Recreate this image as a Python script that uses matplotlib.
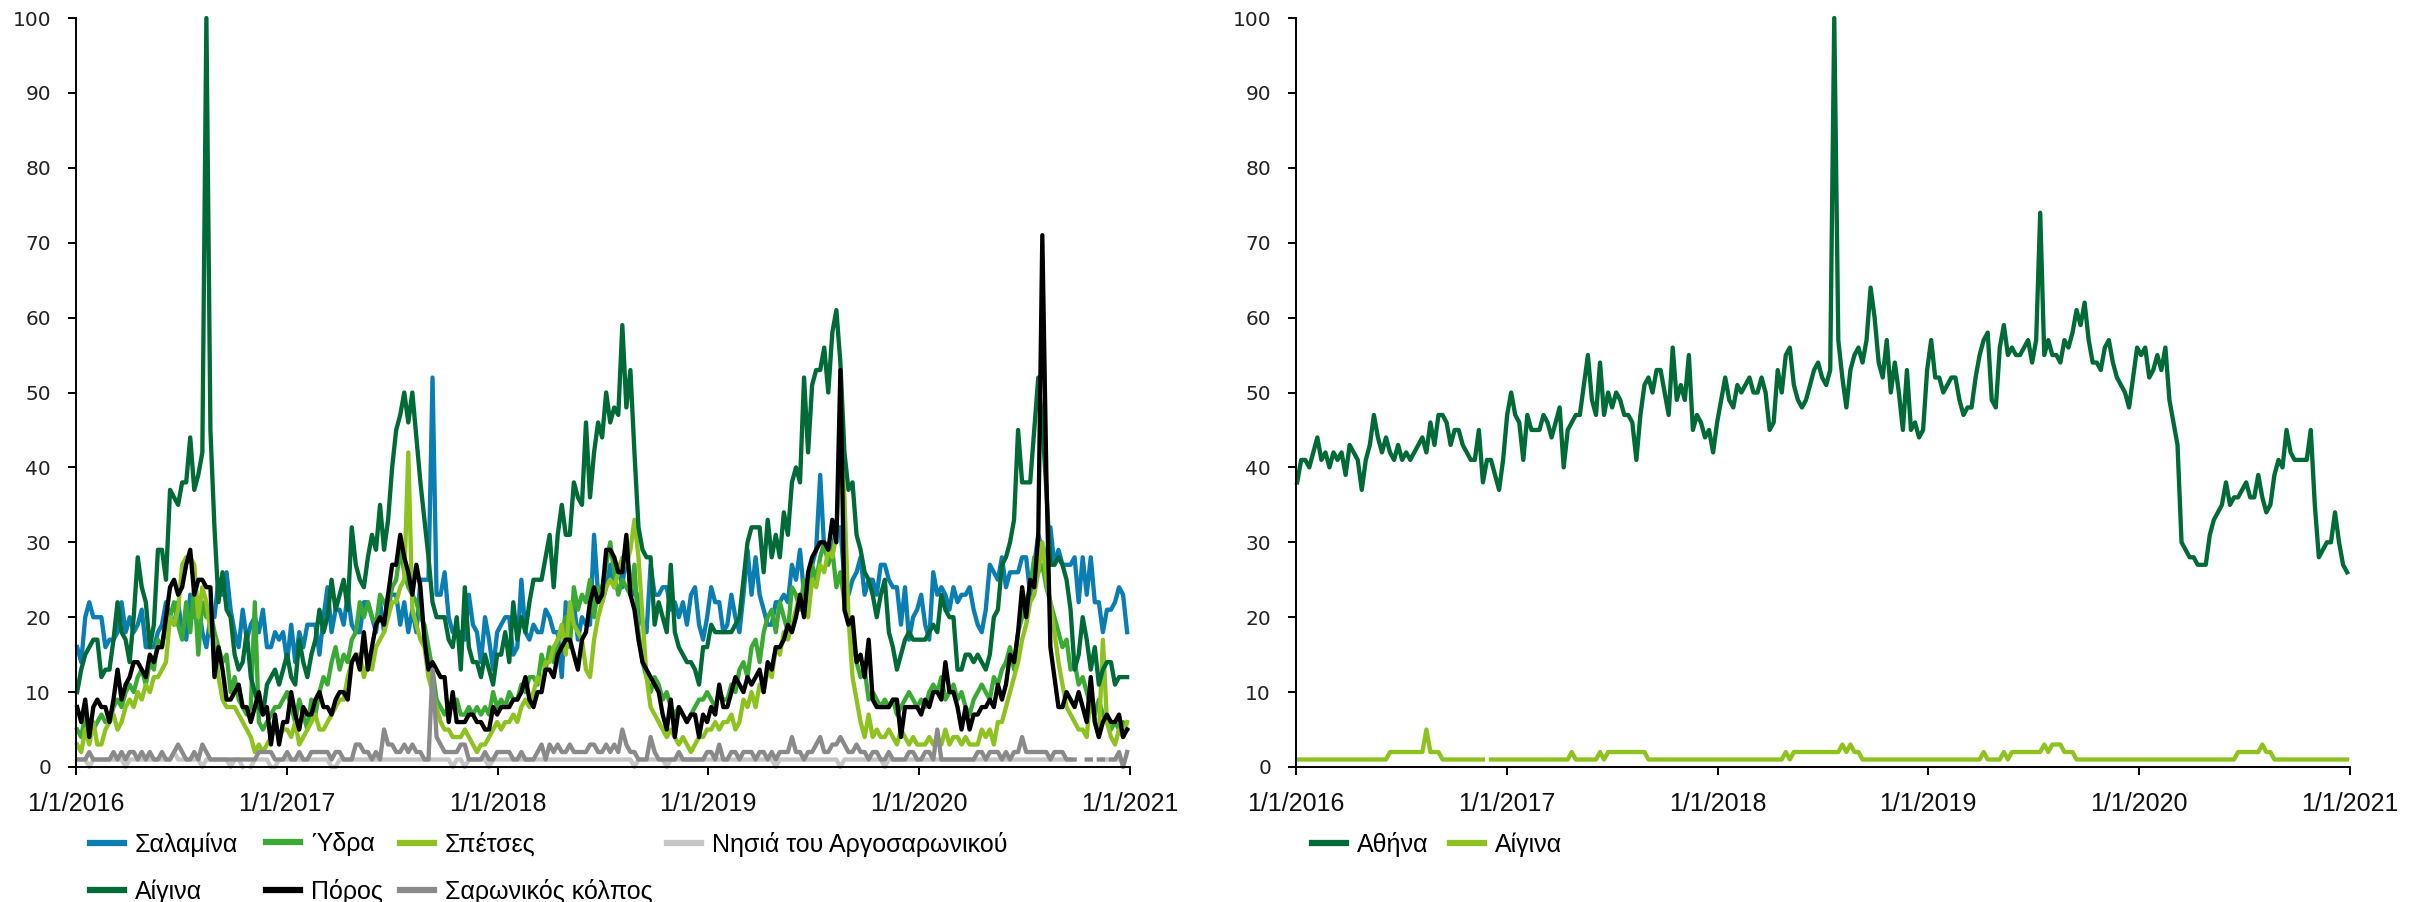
import numpy as np
import pandas as pd
import matplotlib
matplotlib.use('Agg')
import matplotlib.pyplot as plt

nan = np.nan

first_week = '2016-01-03'
tick_dates = ['2016-01-01', '2017-01-01', '2018-01-01', '2019-01-01', '2020-01-01', '2021-01-01']
tick_labels = ['1/1/2016', '1/1/2017', '1/1/2018', '1/1/2019', '1/1/2020', '1/1/2021']
y_ticks = [0, 10, 20, 30, 40, 50, 60, 70, 80, 90, 100]

# ---------- left panel: weekly search interest per island
salamina = [16, 14, 20, 22, 20, 20, 20, 16, 17, 17,
            18, 22, 18, 20, 18, 19, 21, 16, 16, 16,
            18, 19, 22, 20, 19, 22, 18, 17, 23, 20,
            22, 18, 16, 20, 20, 25, 23, 26, 21, 18,
            16, 21, 17, 19, 20, 18, 21, 16, 16, 18,
            17, 18, 14, 19, 14, 18, 16, 19, 19, 19,
            15, 20, 24, 18, 21, 21, 19, 23, 19, 18,
            18, 22, 22, 20, 18, 22, 18, 23, 23, 23,
            19, 22, 18, 21, 18, 25, 25, 25, 52, 23,
            23, 26, 20, 18, 18, 18, 17, 23, 19, 18,
            14, 20, 17, 13, 18, 19, 20, 20, 15, 16,
            25, 18, 17, 19, 18, 18, 21, 20, 18, 18,
            12, 22, 19, 22, 17, 20, 19, 19, 31, 23,
            22, 24, 27, 24, 27, 24, 29, 24, 23, 23,
            19, 18, 27, 23, 23, 24, 24, 21, 22, 20,
            22, 19, 23, 24, 19, 17, 20, 24, 22, 22,
            18, 19, 23, 20, 18, 23, 29, 23, 28, 23,
            21, 19, 19, 22, 22, 23, 22, 27, 25, 29,
            23, 25, 27, 29, 39, 29, 28, 29, 32, 32,
            25, 23, 25, 26, 28, 23, 25, 25, 23, 27,
            27, 25, 24, 24, 19, 24, 17, 20, 21, 23,
            19, 17, 26, 23, 24, 23, 21, 24, 22, 23,
            23, 24, 21, 19, 18, 21, 27, 26, 25, 28,
            24, 26, 26, 26, 28, 28, 23, 27, 31, 29,
            28, 32, 27, 29, 27, 27, 27, 28, 22, 28,
            23, 28, 22, 22, 18, 21, 21, 22, 24, 23, 18]

ydra = [5, 4, 7, 4, 5, 6, 7, 6, 6, 8,
        9, 8, 10, 11, 10, 12, 13, 11, 14, 13,
        17, 16, 19, 20, 22, 19, 17, 22, 18, 24,
        15, 22, 20, 21, 18, 16, 14, 15, 10, 12,
        9, 8, 7, 8, 22, 6, 5, 6, 7, 8,
        8, 9, 10, 8, 6, 9, 7, 5, 9, 7,
        10, 12, 11, 14, 16, 13, 15, 14, 17, 18,
        22, 20, 22, 20, 19, 23, 22, 21, 24, 25,
        29, 26, 24, 23, 22, 20, 19, 16, 13, 9,
        8, 7, 8, 8, 9, 7, 7, 8, 7, 8,
        7, 8, 7, 10, 8, 9, 8, 10, 9, 9,
        11, 10, 12, 12, 11, 15, 13, 16, 14, 17,
        18, 20, 16, 24, 21, 23, 22, 25, 20, 24,
        24, 27, 30, 26, 23, 25, 24, 23, 27, 18,
        14, 12, 10, 12, 11, 9, 10, 8, 7, 8,
        7, 6, 7, 8, 9, 9, 10, 9, 8, 10,
        9, 9, 11, 10, 13, 14, 12, 16, 17, 14,
        18, 20, 21, 18, 22, 20, 18, 24, 23, 21,
        25, 22, 27, 25, 28, 30, 27, 29, 24, 26,
        22, 20, 17, 14, 12, 13, 9, 10, 9, 8,
        9, 8, 9, 7, 8, 9, 10, 9, 8, 9,
        8, 10, 11, 10, 12, 9, 10, 11, 9, 10,
        8, 7, 9, 10, 11, 10, 9, 12, 11, 13,
        14, 16, 13, 18, 20, 22, 24, 28, 26, 27,
        24, 22, 20, 18, 16, 17, 13, 14, 11, 12,
        10, 8, 7, 9, 7, 6, 5, 6, 5, 6, 5]

spetses = [3, 2, 5, 3, 6, 3, 3, 5, 6, 7,
           5, 6, 8, 9, 8, 10, 9, 11, 10, 12,
           12, 13, 14, 20, 19, 21, 27, 28, 28, 27,
           20, 24, 22, 18, 17, 12, 9, 8, 8, 8,
           7, 6, 5, 4, 2, 3, 2, 3, 4, 5,
           4, 5, 5, 4, 6, 3, 4, 5, 6, 7,
           5, 5, 6, 7, 8, 9, 9, 12, 14, 15,
           15, 12, 14, 13, 16, 17, 18, 20, 22, 22,
           24, 25, 42, 21, 19, 17, 16, 12, 10, 8,
           6, 5, 5, 4, 4, 4, 5, 4, 3, 2,
           3, 3, 4, 5, 6, 5, 6, 6, 7, 6,
           8, 9, 8, 10, 12, 11, 14, 14, 16, 17,
           19, 15, 22, 19, 18, 17, 13, 12, 17, 20,
           22, 24, 25, 24, 26, 28, 27, 29, 33, 28,
           20, 12, 8, 7, 6, 5, 4, 5, 4, 3,
           4, 3, 2, 3, 4, 4, 5, 5, 6, 5,
           6, 6, 7, 5, 6, 9, 8, 10, 8, 11,
           10, 13, 12, 16, 15, 18, 17, 19, 21, 23,
           22, 20, 25, 24, 27, 26, 29, 28, 31, 43,
           36, 20, 12, 9, 6, 4, 7, 4, 5, 4,
           4, 5, 4, 3, 5, 4, 3, 4, 3, 3,
           3, 4, 3, 4, 3, 5, 3, 4, 4, 3,
           4, 3, 3, 3, 5, 4, 5, 3, 6, 6,
           8, 10, 12, 14, 17, 19, 22, 23, 26, 30,
           25, 22, 18, 14, 11, 8, 7, 6, 5, 5,
           4, 10, 6, 4, 17, 6, 4, 3, 5, 4, 6]

nisia = [1, 1, 1, 0, 1, 1, 1, 1, 1, 1,
         1, 1, 0, 1, 1, 1, 1, 1, 1, 1,
         1, 1, 1, 1, 2, 1, 1, 1, 1, 1,
         1, 0, 1, 1, 1, 1, 1, 1, 0, 1,
         1, 0, nan, 0, 1, 1, 1, 1, 0, 0,
         1, 1, 1, 1, 1, 1, 1, 1, 1, 1,
         1, 1, 1, 0, 0, 1, 1, 1, 1, 1,
         1, 1, 1, 1, 1, 1, 1, 1, 1, 1,
         1, 1, 1, 1, 1, 1, 1, 1, 1, 1,
         1, 1, 1, 0, 1, 1, 0, 1, 1, 1,
         1, 1, 0, 1, 1, 1, 1, 1, 1, 1,
         1, 1, 1, 1, 1, 1, 1, 1, 1, 1,
         1, 1, 1, 1, 1, 1, 1, 1, 1, 1,
         1, 1, 1, 1, 1, 1, 1, 1, 0, 1,
         1, 1, 1, 1, 1, 1, 0, 1, 1, 1,
         1, 1, 1, 1, 1, 1, 1, 1, 1, 1,
         1, 1, 1, 1, 1, 1, 1, 1, 1, 1,
         1, 1, 1, 0, 1, 1, 1, 1, 1, 1,
         1, 1, 1, 1, 1, 1, 1, 1, 1, 0,
         1, 1, 1, 1, 1, 1, 1, 1, 1, 1,
         0, 1, 1, 1, 1, 1, 1, 1, 1, 1,
         1, 1, 1, 1, 1, 1, 1, 1, 1, 1,
         1, 1, 1, 1, 1, 1, 1, 1, 1, 1,
         1, 1, 1, 1, 1, 1, 1, 1, 1, 1,
         1, 1, 1, 1, 1, 1, 1, nan, 1, nan,
         1, nan, 1, nan, 1, 1, nan, 1, 1, nan, 1]

aigina = [10, 13, 15, 16, 17, 17, 12, 13, 13, 17,
          22, 18, 17, 14, 20, 28, 24, 22, 16, 19,
          29, 29, 25, 37, 36, 35, 38, 38, 44, 37,
          39, 42, 100, 45, 32, 22, 26, 21, 20, 15,
          13, 14, 18, 12, 10, 8, 7, 11, 12, 13,
          11, 13, 15, 12, 11, 17, 14, 12, 15, 17,
          21, 18, 20, 25, 21, 23, 25, 21, 32, 27,
          25, 24, 28, 31, 29, 35, 29, 33, 40, 45,
          47, 50, 46, 50, 44, 38, 33, 28, 22, 20,
          20, 20, 17, 16, 20, 13, 24, 16, 14, 14,
          12, 15, 13, 11, 15, 15, 18, 14, 22, 17,
          20, 18, 22, 25, 25, 25, 28, 31, 24, 31,
          35, 31, 31, 38, 36, 35, 46, 36, 42, 46,
          44, 50, 46, 48, 47, 59, 48, 53, 42, 32,
          29, 28, 28, 19, 22, 20, 18, 27, 18, 16,
          15, 14, 14, 13, 11, 16, 16, 19, 18, 18,
          18, 18, 18, 19, 20, 25, 30, 32, 32, 32,
          26, 33, 28, 31, 28, 34, 31, 38, 40, 38,
          52, 42, 51, 53, 53, 56, 50, 58, 61, 54,
          42, 37, 38, 31, 29, 26, 25, 23, 20, 23,
          25, 18, 16, 13, 15, 17, 18, 17, 17, 17,
          17, 18, 19, 18, 23, 21, 20, 20, 13, 13,
          15, 15, 14, 15, 14, 13, 15, 20, 21, 27,
          28, 30, 33, 45, 38, 38, 38, 45, 52, 46,
          37, 27, 27, 28, 27, 25, 21, 13, 15, 20,
          17, 13, 16, 11, 13, 14, 14, 11, 12, 12, 12]

poros = [8, 6, 9, 4, 8, 9, 8, 8, 6, 9,
         13, 9, 11, 12, 14, 14, 13, 12, 15, 14,
         16, 16, 20, 24, 25, 23, 24, 27, 29, 23,
         25, 25, 24, 24, 12, 16, 13, 9, 9, 10,
         11, 8, 8, 6, 8, 10, 7, 8, 3, 7,
         3, 6, 6, 10, 7, 5, 8, 7, 7, 9,
         10, 8, 8, 7, 9, 10, 10, 9, 14, 15,
         13, 18, 13, 16, 19, 20, 19, 23, 27, 27,
         31, 28, 26, 23, 27, 24, 17, 13, 14, 13,
         12, 12, 6, 10, 6, 6, 6, 7, 7, 6,
         6, 5, 5, 8, 7, 8, 8, 8, 9, 9,
         10, 12, 9, 8, 10, 10, 13, 13, 12, 15,
         16, 17, 17, 15, 13, 17, 18, 22, 24, 22,
         23, 29, 29, 28, 26, 26, 31, 23, 21, 17,
         14, 13, 12, 11, 10, 7, 5, 9, 4, 8,
         7, 6, 7, 7, 4, 7, 6, 8, 7, 11,
         8, 8, 10, 12, 11, 10, 12, 11, 12, 13,
         10, 14, 13, 16, 16, 17, 19, 18, 20, 23,
         20, 26, 28, 29, 30, 30, 29, 33, 30, 53,
         21, 19, 20, 14, 15, 12, 17, 9, 8, 8,
         8, 8, 9, 9, 4, 8, 8, 8, 8, 7,
         9, 8, 10, 10, 9, 14, 10, 10, 8, 5,
         8, 5, 7, 7, 8, 8, 9, 8, 11, 9,
         11, 15, 14, 18, 24, 20, 25, 24, 31, 71,
         39, 16, 12, 8, 8, 10, 9, 8, 10, 8,
         6, 12, 6, 4, 6, 7, 6, 6, 7, 4, 5]

saronikos = [1, 1, 1, 2, 1, 1, 1, 1, 1, 2,
             1, 2, 1, 2, 2, 1, 2, 1, 2, 1,
             1, 2, 1, 1, 2, 3, 2, 1, 1, 2,
             1, 3, 2, 1, 1, 1, 1, 1, 1, 1,
             1, 1, 1, 1, 1, 2, 2, 2, 2, 1,
             1, 1, 2, 1, 1, 2, 1, 1, 2, 2,
             2, 2, 2, 1, 2, 2, 1, 1, 1, 3,
             3, 2, 2, 1, 2, 1, 5, 3, 3, 2,
             2, 3, 2, 3, 2, 2, 1, 1, 13, 4,
             3, 2, 2, 2, 2, 3, 3, 1, 1, 1,
             1, 2, 1, 1, 2, 2, 2, 2, 1, 1,
             2, 1, 1, 1, 2, 3, 1, 3, 2, 3,
             2, 2, 3, 2, 2, 2, 2, 3, 3, 2,
             2, 3, 2, 3, 2, 5, 3, 2, 2, 1,
             1, 1, 4, 2, 1, 1, 1, 1, 1, 2,
             1, 1, 1, 1, 1, 1, 2, 2, 1, 3,
             1, 1, 2, 2, 1, 2, 2, 2, 1, 2,
             2, 1, 2, 1, 2, 2, 2, 4, 2, 2,
             1, 2, 2, 3, 4, 2, 2, 3, 3, 4,
             3, 2, 2, 3, 2, 2, 1, 2, 2, 1,
             1, 2, 1, 1, 1, 1, 2, 2, 1, 1,
             2, 2, 1, 5, 1, 1, 1, 1, 1, 1,
             1, 1, 1, 2, 2, 1, 2, 2, 2, 1,
             2, 1, 2, 2, 4, 2, 2, 2, 2, 2,
             2, 1, 2, 2, 2, 1, 1, 1, nan, nan,
             1, 1, nan, 1, 1, nan, 1, 1, 2, 0, 2]

# ---------- right panel: Athens vs Aegina
athina = [38, 41, 41, 40, 42, 44, 41, 42, 40, 42,
          41, 42, 39, 43, 42, 41, 37, 41, 43, 47,
          44, 42, 44, 42, 41, 43, 41, 42, 41, 42,
          43, 44, 42, 46, 43, 47, 47, 46, 43, 45,
          45, 43, 42, 41, 41, 45, 38, 41, 41, 39,
          37, 41, 47, 50, 47, 46, 41, 47, 45, 45,
          45, 47, 46, 44, 46, 48, 40, 45, 46, 47,
          47, 51, 55, 49, 47, 54, 47, 50, 48, 50,
          49, 47, 47, 46, 41, 47, 51, 52, 50, 53,
          53, 50, 47, 56, 49, 51, 49, 55, 45, 47,
          46, 44, 45, 42, 46, 49, 52, 49, 48, 51,
          50, 51, 52, 50, 50, 52, 50, 45, 46, 53,
          50, 55, 56, 51, 49, 48, 49, 51, 53, 54,
          52, 51, 53, 100, 57, 52, 48, 53, 55, 56,
          54, 57, 64, 60, 54, 52, 57, 50, 54, 50,
          45, 53, 45, 46, 44, 45, 53, 57, 52, 52,
          50, 51, 52, 52, 49, 47, 48, 48, 52, 55,
          57, 58, 49, 48, 56, 59, 55, 56, 55, 55,
          56, 57, 54, 57, 74, 55, 57, 55, 55, 54,
          57, 56, 58, 61, 59, 62, 57, 54, 54, 53,
          56, 57, 54, 52, 51, 50, 48, 52, 56, 55,
          56, 52, 53, 55, 53, 56, 49, 46, 43, 30,
          29, 28, 28, 27, 27, 27, 31, 33, 34, 35,
          38, 35, 36, 36, 37, 38, 36, 36, 39, 36,
          34, 35, 39, 41, 40, 45, 42, 41, 41, 41,
          41, 45, 35, 28, 29, 30, 30, 34, 30, 27, 26]

aigina_r = [1, 1, 1, 1, 1, 1, 1, 1, 1, 1,
            1, 1, 1, 1, 1, 1, 1, 1, 1, 1,
            1, 1, 1, 2, 2, 2, 2, 2, 2, 2,
            2, 2, 5, 2, 2, 2, 1, 1, 1, 1,
            1, 1, 1, 1, 1, 1, 1, nan, 1, 1,
            1, 1, 1, 1, 1, 1, 1, 1, 1, 1,
            1, 1, 1, 1, 1, 1, 1, 1, 2, 1,
            1, 1, 1, 1, 1, 2, 1, 2, 2, 2,
            2, 2, 2, 2, 2, 2, 2, 1, 1, 1,
            1, 1, 1, 1, 1, 1, 1, 1, 1, 1,
            1, 1, 1, 1, 1, 1, 1, 1, 1, 1,
            1, 1, 1, 1, 1, 1, 1, 1, 1, 1,
            1, 2, 1, 2, 2, 2, 2, 2, 2, 2,
            2, 2, 2, 2, 2, 3, 2, 3, 2, 2,
            1, 1, 1, 1, 1, 1, 1, 1, 1, 1,
            1, 1, 1, 1, 1, 1, 1, 1, 1, 1,
            1, 1, 1, 1, 1, 1, 1, 1, 1, 1,
            2, 1, 1, 1, 1, 2, 1, 2, 2, 2,
            2, 2, 2, 2, 2, 3, 2, 3, 3, 3,
            2, 2, 2, 1, 1, 1, 1, 1, 1, 1,
            1, 1, 1, 1, 1, 1, 1, 1, 1, 1,
            1, 1, 1, 1, 1, 1, 1, 1, 1, 1,
            1, 1, 1, 1, 1, 1, 1, 1, 1, 1,
            1, 1, 1, 2, 2, 2, 2, 2, 2, 3,
            2, 2, 1, 1, 1, 1, 1, 1, 1, 1,
            1, 1, 1, 1, 1, 1, 1, 1, 1, 1, 1]

left_series = [('Σαλαμίνα', salamina, '#0a7db3'),
               ('Ύδρα', ydra, '#3aaa35'),
               ('Σπέτσες', spetses, '#8dc21f'),
               ('Νησιά του Αργοσαρωνικού', nisia, '#c6c6c6'),
               ('Αίγινα', aigina, '#006b36'),
               ('Πόρος', poros, '#000000'),
               ('Σαρωνικός κόλπος', saronikos, '#8a8a8a')]
right_series = [('Αθήνα', athina, '#006b36'),
                ('Αίγινα', aigina_r, '#8dc21f')]

# legend columns (the original lays them out row by row)
left_cols = [['Σαλαμίνα', 'Αίγινα'], ['Ύδρα', 'Πόρος'],
             ['Σπέτσες', 'Σαρωνικός κόλπος'], ['Νησιά του Αργοσαρωνικού']]
left_col_x = [90, 266, 400, 667]
right_cols = [['Αθήνα'], ['Αίγινα']]
right_col_x = [1312, 1450]

label_font = ['Liberation Sans', 'DejaVu Sans']


def weeks(vals):
    return pd.date_range(first_week, periods=len(vals), freq='7D')


def style_axis(ax):
    ax.set_ylim(0, 100)
    ax.set_xlim(pd.Timestamp(tick_dates[0]), pd.Timestamp(tick_dates[-1]))
    ax.set_yticks(y_ticks)
    ax.set_yticklabels([str(v) for v in y_ticks], family='DejaVu Sans', fontsize=14.5, color='#222222')
    ax.set_xticks([pd.Timestamp(d) for d in tick_dates])
    ax.set_xticklabels(tick_labels, family=label_font, fontsize=18, color='#111111')
    ax.spines['top'].set_visible(False)
    ax.spines['right'].set_visible(False)
    for s in ['left', 'bottom']:
        ax.spines[s].set_linewidth(1.4)
    ax.tick_params(axis='both', direction='out', length=6, width=1.4)
    ax.tick_params(axis='y', pad=12)
    ax.tick_params(axis='x', pad=12)


def add_legend(handles, cols, xs):
    for names, x in zip(cols, xs):
        leg = fig.legend([handles[n] for n in names], names, loc='upper left',
                         bbox_to_anchor=(x / 2420, 0.0775), frameon=False,
                         borderpad=0, borderaxespad=0, handlelength=1.35,
                         handletextpad=0.45, labelspacing=0.9,
                         prop={'family': label_font, 'size': 18})
        for l in leg.get_lines():
            l.set_linewidth(4.5)


fig = plt.figure(figsize=(24.2, 9.02), dpi=100)
ax1 = fig.add_axes([76 / 2420, 135 / 902, 1054 / 2420, 749 / 902])
ax2 = fig.add_axes([1296 / 2420, 135 / 902, 1054 / 2420, 749 / 902])

h1 = {}
for name, vals, col in left_series:
    ln, = ax1.plot(weeks(vals), vals, color=col, lw=3.1, label=name, clip_on=False)
    h1[name] = ln
h2 = {}
for name, vals, col in right_series:
    ln, = ax2.plot(weeks(vals), vals, color=col, lw=3.1, label=name, clip_on=False)
    h2[name] = ln

style_axis(ax1)
style_axis(ax2)

add_legend(h1, left_cols, left_col_x)
add_legend(h2, right_cols, right_col_x)

fig.savefig('out.png', dpi=100)
